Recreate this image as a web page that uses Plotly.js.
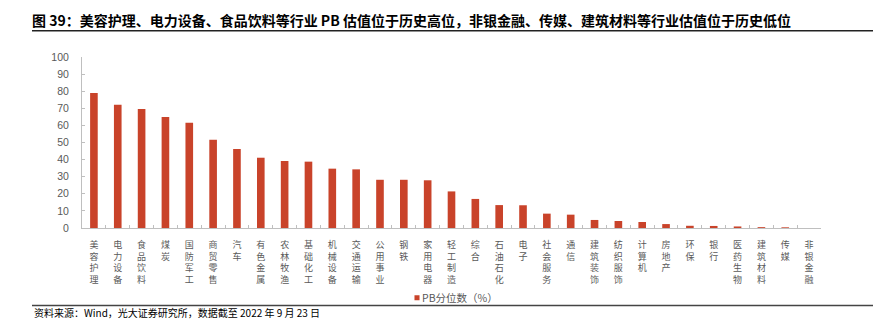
<!DOCTYPE html>
<html>
<head>
<meta charset="utf-8">
<script src="https://cdn.plot.ly/plotly-3.0.1.min.js"></script>
<style>
html,body{margin:0;padding:0;background:#fff;}
#chart{width:875px;height:333px;}
.legendpoints path{transform:translate(35px,0) scale(0.42);}
</style>
</head>
<body>
<div id="chart"></div>
<script>
// ---- data ----
const categories = ["美容护理","电力设备","食品饮料","煤炭","国防军工","商贸零售","汽车","有色金属","农林牧渔","基础化工","机械设备","交通运输","公用事业","钢铁","家用电器","轻工制造","综合","石油石化","电子","社会服务","通信","建筑装饰","纺织服饰","计算机","房地产","环保","银行","医药生物","建筑材料","传媒","非银金融"];
const pbPercentile = [79.0,72.1,69.6,64.9,61.6,51.6,46.2,41.1,39.2,38.8,34.7,34.3,28.2,28.2,27.9,21.4,17.0,13.4,13.3,8.4,7.8,4.7,4.1,3.5,2.3,1.3,1.2,0.9,0.5,0.4,0.0];
const seriesName = "PB分位数（%）";
const yTickVals = [0,10,20,30,40,50,60,70,80,90,100];
const titleText = "图 39：美容护理、电力设备、食品饮料等行业 PB 估值位于历史高位，非银金融、传媒、建筑材料等行业估值位于历史低位";
const sourceText = "资料来源：Wind，光大证券研究所，数据截至 2022 年 9 月 23 日";

// ---- layout geometry ----
const W = 875, H = 333;
const L = 82, R = 821, T = 57.3, B = 228.3;
const px2x = p => (p - L) / (R - L);
const py2y = p => (B - p) / (B - T);

const cjk = '"Noto Sans CJK SC", "Noto Sans", sans-serif';
const gray = '#595959';
const axisColor = '#bfbfbf';

const trace = {
  type: 'bar',
  x: categories,
  y: pbPercentile,
  name: seriesName,
  marker: {color: '#C9432A', line: {width: 0}},
  hoverinfo: 'x+y'
};

const layout = {
  width: W, height: H,
  margin: {l: L, r: W - R, t: T, b: H - B, pad: 0},
  paper_bgcolor: '#fff', plot_bgcolor: '#fff',
  bargap: 0.68,
  showlegend: true,
  title: {
    text: '<b>' + titleText + '</b>',
    font: {family: cjk, size: 14, color: '#000'},
    x: 32 / W, xanchor: 'left', xref: 'container',
    y: 1 - 21 / H, yanchor: 'middle', yref: 'container'
  },
  xaxis: {
    type: 'category',
    tickvals: categories,
    ticktext: categories.map(c => c.split('').join('<br>')),
    tickangle: 0,
    tickfont: {family: cjk, size: 9, color: gray},
    showline: true, linecolor: axisColor, linewidth: 1,
    ticks: 'inside', ticklen: 3, tickcolor: axisColor, tickwidth: 1,
    tickson: 'boundaries',
    showgrid: false, zeroline: false,
    ticklabelstandoff: 8,
    fixedrange: true
  },
  yaxis: {
    range: [0, 100],
    tickvals: yTickVals,
    tickfont: {family: '"Liberation Sans", Arial, sans-serif', size: 10.5, color: gray},
    showline: true, linecolor: axisColor, linewidth: 1,
    ticks: 'inside', ticklen: 3, tickcolor: axisColor, tickwidth: 1,
    showgrid: false, zeroline: false,
    ticklabelstandoff: 10,
    fixedrange: true
  },
  legend: {
    orientation: 'h',
    x: px2x(382), xanchor: 'left',
    y: py2y(298), yanchor: 'middle',
    font: {family: cjk, size: 10.5, color: gray},
    bgcolor: 'rgba(0,0,0,0)'
  },
  shapes: [
    {type: 'line', xref: 'paper', yref: 'paper', x0: px2x(32), x1: px2x(873), y0: py2y(31), y1: py2y(31), line: {color: '#222', width: 1.5}},
    {type: 'line', xref: 'paper', yref: 'paper', x0: px2x(32), x1: px2x(873), y0: py2y(305.7), y1: py2y(305.7), line: {color: '#444', width: 1.5}}
  ],
  annotations: [
    {text: sourceText, xref: 'paper', yref: 'paper', x: px2x(32), xanchor: 'left', y: py2y(312.5), yanchor: 'middle', showarrow: false, font: {family: cjk, size: 10, color: '#000'}}
  ]
};

Plotly.newPlot('chart', [trace], layout, {displayModeBar: false, staticPlot: true});
</script>
</body>
</html>
